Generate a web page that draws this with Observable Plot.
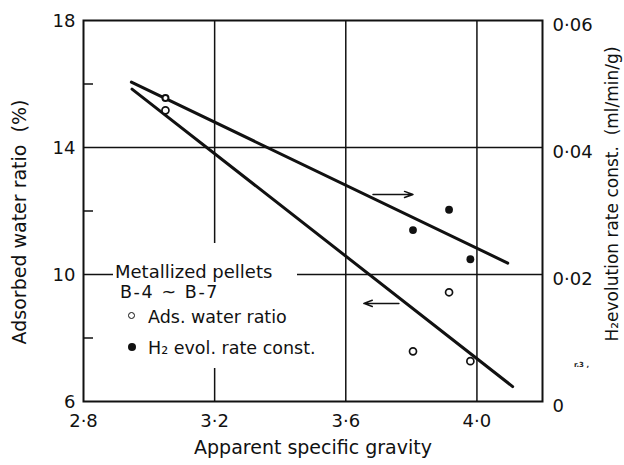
<!DOCTYPE html>
<html><head><meta charset="utf-8">
<script src="https://cdn.jsdelivr.net/npm/d3@7"></script>
<script src="https://cdn.jsdelivr.net/npm/@observablehq/plot@0.6"></script>
<style>
body{margin:0;background:#fff;}
#wrap{position:relative;width:624px;height:465px;font-family:"DejaVu Sans",sans-serif;color:#111;}
#legend{position:absolute;left:113px;top:243px;width:184px;height:125px;background:#fff;}
#legend span{position:absolute;white-space:nowrap;line-height:1;font-size:17.5px;}
#legend .m{border-radius:50%;box-sizing:border-box;}
#artifact{position:absolute;left:574px;top:361px;font-size:7px;font-weight:bold;color:#222;white-space:pre;}
</style></head><body><div id="wrap"></div>
<script>
// Data (4 metallized pellets, B-4 ~ B-7)
const gravity  = [3.05, 3.805, 3.915, 3.98];      // apparent specific gravity
const adsWater = [15.17, 7.58, 9.44, 7.27];       // adsorbed water ratio (%)
const h2Rate   = [0.0478, 0.0270, 0.0302, 0.0224]; // H2 evolution rate const. (ml/min/g)

// fitted lines (end points)
const adsFitX = [2.948, 4.109];
const adsFitY = [15.84, 6.47];
const h2FitX  = [2.946, 4.094];
const h2FitY  = [0.0503, 0.0218];

// arrows pointing to the relevant axis
const arrowX1 = [3.683, 3.762];
const arrowX2 = [3.805, 3.655];
const arrowY  = [12.52, 9.09];

// axes
const xTicks = [2.8, 3.2, 3.6, 4.0];
const xTickLabels = ["2\u00B78", "3\u00B72", "3\u00B76", "4\u00B70"];
const yTicks = [6, 10, 14, 18];
const yMinorTicks = [8, 12, 16];
const rTicks = [0, 0.02, 0.04, 0.06];
const rTickLabels = ["0", "0\u00B702", "0\u00B704", "0\u00B706"];
const xGrid = [3.2, 3.6, 4.0];
const yGrid = [10, 14];

const Y0 = 6, Y1 = 18, R1 = 0.06;
const toLeft = v => Y0 + v / R1 * (Y1 - Y0);

const idx = gravity.map((_, i) => i);
const ink = "#111";

const chart = Plot.plot({
  width: 624, height: 465,
  marginLeft: 83, marginRight: 82, marginTop: 20, marginBottom: 64,
  x: {domain: [2.8, 4.2]},
  y: {domain: [Y0, Y1]},
  style: {fontFamily: "DejaVu Sans, sans-serif", fontSize: "18px", color: ink, background: "transparent"},
  marks: [
    Plot.ruleX(xGrid, {stroke: ink, strokeWidth: 1.5}),
    Plot.ruleY(yGrid, {stroke: ink, strokeWidth: 1.5}),
    Plot.frame({stroke: ink, strokeWidth: 2}),
    Plot.axisX(xTicks, {tickSize: 0, tickPadding: 13, fontSize: 18, label: null,
      tickFormat: d => xTickLabels[xTicks.indexOf(d)]}),
    Plot.axisY(yTicks, {anchor: "left", tickSize: 0, tickPadding: 8, fontSize: 18, label: null, dy: 1,
      tickFormat: d => String(d)}),
    Plot.axisY(yMinorTicks, {anchor: "left", tickSize: -10, strokeWidth: 1.5, label: null, tickFormat: () => ""}),
    Plot.axisY(rTicks.map(toLeft), {anchor: "right", tickSize: 0, tickPadding: 10, fontSize: 18, label: null, dy: 5,
      tickFormat: d => rTickLabels[rTicks.findIndex(v => Math.abs(toLeft(v) - d) < 1e-6)]}),
    Plot.text(["Apparent specific gravity"], {frameAnchor: "bottom", dy: 52, fontSize: 19, fill: ink}),
    Plot.text(["Adsorbed water ratio\u00a0\u00a0(%)"], {frameAnchor: "left", textAnchor: "middle", rotate: -90, dx: -64, dy: 11, fontSize: 19, fill: ink}),
    Plot.text(["H\u2082evolution rate const.\u00a0\u00a0(ml/min/g)"], {frameAnchor: "right", textAnchor: "middle", rotate: -90, dx: 70, dy: -17, fontSize: 17, fill: ink}),
    Plot.line([0, 1], {x: i => adsFitX[i], y: i => adsFitY[i], stroke: ink, strokeWidth: 3}),
    Plot.line([0, 1], {x: i => h2FitX[i], y: i => toLeft(h2FitY[i]), stroke: ink, strokeWidth: 3}),
    Plot.arrow([0, 1], {x1: i => arrowX1[i], x2: i => arrowX2[i], y1: i => arrowY[i], y2: i => arrowY[i],
      stroke: ink, strokeWidth: 1.5, headLength: 9, headAngle: 40}),
    Plot.dot(idx, {x: i => gravity[i], y: i => adsWater[i], r: 3.5, fill: "white", stroke: ink, strokeWidth: 1.7}),
    Plot.dot(idx.filter(i => i > 0), {x: i => gravity[i], y: i => toLeft(h2Rate[i]), r: 3.9, fill: ink}),
    Plot.dot(idx.filter(i => i === 0), {x: i => gravity[i], y: i => toLeft(h2Rate[i]), r: 3, fill: "white", stroke: ink, strokeWidth: 2})
  ]
});

const wrap = document.getElementById("wrap");
wrap.appendChild(chart);

const legend = document.createElement("div");
legend.id = "legend";
legend.innerHTML = `
  <span style="left:2px;top:20px;font-size:18px">Metallized pellets</span>
  <span style="left:7px;top:41px;letter-spacing:1.6px">B-4 ~ B-7</span>
  <span class="m" style="left:15px;top:69px;width:7px;height:7px;border:1.6px solid ${ink}"></span>
  <span style="left:35px;top:66px">Ads. water ratio</span>
  <span class="m" style="left:15px;top:100px;width:8px;height:8px;background:${ink}"></span>
  <span style="left:35px;top:97px">H\u2082 evol. rate const.</span>`;
wrap.appendChild(legend);

const art = document.createElement("div");
art.id = "artifact";
art.textContent = "r.3 ,";
wrap.appendChild(art);
</script></body></html>
